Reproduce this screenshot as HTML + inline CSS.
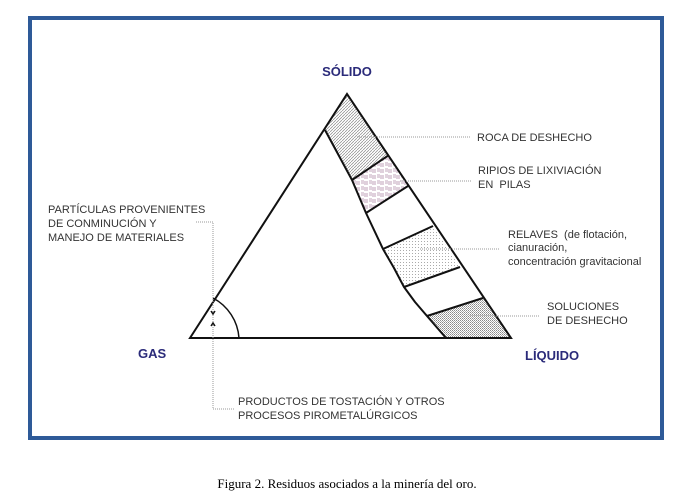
<!DOCTYPE html>
<html><head><meta charset="utf-8"><style>
html,body{margin:0;padding:0;background:#fff;}
svg{display:block}
text{font-family:"Liberation Sans",sans-serif;font-size:11px;fill:#333;}
.b{font-weight:bold;font-size:13px;fill:#2b2b7a;}
</style></head><body>
<svg width="689" height="499" viewBox="0 0 689 499">
<defs>
<pattern id="h" width="3" height="3" patternUnits="userSpaceOnUse"><path d="M0,3 L3,0" stroke="#888" stroke-width="0.7"/></pattern>
<pattern id="p" width="8" height="6" patternUnits="userSpaceOnUse"><path d="M1,1h3M1,3h3M5,1v4M7,1v4" stroke="#b08aa8" stroke-width="0.8"/></pattern>
<pattern id="d" width="3" height="3" patternUnits="userSpaceOnUse"><rect x="1" y="1" width="1" height="1" fill="#aaa"/></pattern>
<pattern id="x" width="2" height="2" patternUnits="userSpaceOnUse"><rect width="1" height="1" fill="#888"/><rect x="1" y="1" width="1" height="1" fill="#aaa"/></pattern>
</defs>
<rect x="30" y="18" width="632" height="420" fill="none" stroke="#2e5a98" stroke-width="4"/>
<!-- bands -->
<path d="M347,94 L389,155 L352,180 L325,130 Z" fill="url(#h)"/>
<path d="M389,155 L408,186 L366,213 L352,180 Z" fill="url(#p)"/>
<path d="M433,226 L460,267 L404,287 L383,249 Z" fill="url(#d)"/>
<path d="M483,298 L511,338 L446,338 L427,316 Z" fill="url(#x)"/>
<!-- triangle -->
<path d="M190,338 L347,94 L511,338 Z" fill="none" stroke="#111" stroke-width="2"/>
<path d="M325,130 L352,180 L366,213 L383,249 L394,268 L404,287 L415,302 L427,316 L446,338" fill="none" stroke="#111" stroke-width="2" stroke-linejoin="round"/>
<g stroke="#111" stroke-width="2">
<line x1="352" y1="180" x2="389" y2="155"/>
<line x1="366" y1="213" x2="408" y2="186"/>
<line x1="383" y1="249" x2="433" y2="226"/>
<line x1="404" y1="287" x2="460" y2="267"/>
<line x1="427" y1="316" x2="483" y2="298"/>
</g>
<path d="M239,338 A49,49 0 0 0 213,298" fill="none" stroke="#111" stroke-width="1.5"/>
<!-- leaders -->
<g stroke="#999" stroke-width="1" stroke-dasharray="1,1" fill="none">
<line x1="357" y1="137" x2="470" y2="137"/>
<line x1="400" y1="181" x2="472" y2="181"/>
<line x1="420" y1="249" x2="500" y2="249"/>
<line x1="470" y1="316" x2="540" y2="316"/>
<path d="M196,222 H213 V409 H235"/>
</g>
<path d="M211,311 l2,3 l2,-3" stroke="#111" stroke-width="1.5" fill="none"/>
<path d="M211,326 l2,-3 l2,3" stroke="#111" stroke-width="1.5" fill="none"/>
<text class="b" x="347" y="76" text-anchor="middle">SÓLIDO</text>
<text class="b" x="138" y="358">GAS</text>
<text class="b" x="525" y="360">LÍQUIDO</text>
<text x="477" y="141">ROCA DE DESHECHO</text>
<text x="478" y="174">RIPIOS DE LIXIVIACIÓN</text>
<text x="478" y="188">EN&#160; PILAS</text>
<text x="508" y="238">RELAVES&#160; (de flotación,</text>
<text x="508" y="251">cianuración,</text>
<text x="508" y="265">concentración gravitacional</text>
<text x="547" y="310">SOLUCIONES</text>
<text x="547" y="324">DE DESHECHO</text>
<text x="48" y="213">PARTÍCULAS PROVENIENTES</text>
<text x="48" y="227">DE CONMINUCIÓN Y</text>
<text x="48" y="241">MANEJO DE MATERIALES</text>
<text x="238" y="405">PRODUCTOS DE TOSTACIÓN Y OTROS</text>
<text x="238" y="419">PROCESOS PIROMETALÚRGICOS</text>
<text x="347" y="488" text-anchor="middle" style="font-family:'Liberation Serif',serif;font-size:13px;fill:#000">Figura 2. Residuos asociados a la minería del oro.</text>
</svg>
</body></html>
